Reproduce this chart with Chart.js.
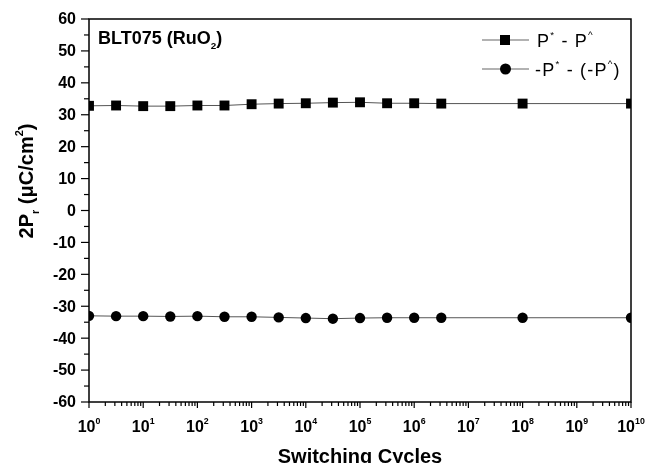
<!DOCTYPE html>
<html>
<head>
<meta charset="utf-8">
<script src="https://cdn.jsdelivr.net/npm/chart.js@4/dist/chart.umd.min.js"></script>
<style>
  html, body { margin: 0; padding: 0; background: #fff; }
  #wrap { width: 645px; height: 463px; }
</style>
</head>
<body>
<div id="wrap"><canvas id="c" width="645" height="463"></canvas></div>
<script>
// switching cycles (x) and remanent polarisation values (y)
const cycles = [1, 3.16e0, 1e1, 3.16e1, 1e2, 3.16e2, 1e3, 3.16e3, 1e4, 3.16e4, 1e5, 3.16e5, 1e6, 3.16e6, 1e8, 1e10];
const posValues = [32.8, 32.9, 32.7, 32.7, 32.9, 32.9, 33.3, 33.5, 33.6, 33.8, 33.9, 33.6, 33.6, 33.5, 33.5, 33.5];
const negValues = [-33.0, -33.1, -33.1, -33.2, -33.1, -33.3, -33.3, -33.5, -33.7, -33.9, -33.7, -33.6, -33.6, -33.6, -33.6, -33.6];
const yTicks = [60, 50, 40, 30, 20, 10, 0, -10, -20, -30, -40, -50, -60];
const xDecades = [0, 1, 2, 3, 4, 5, 6, 7, 8, 9, 10];

const FONT = "'Liberation Sans', Arial, sans-serif";

// draw a list of text runs, each normal / sup / sub
function drawRuns(ctx, x, y, runs, size, weight) {
  let cx = x;
  runs.forEach((r) => {
    let s = size, dy = 0;
    if (r.sup) { s = size * 0.55; dy = -size * 0.5; }
    if (r.sub) { s = size * 0.55; dy = size * 0.3; }
    ctx.font = weight + " " + s + "px " + FONT;
    ctx.fillText(r.t, cx, y + dy);
    cx += ctx.measureText(r.t).width;
  });
  return cx;
}

function runsWidth(ctx, runs, size, weight) {
  let w = 0;
  runs.forEach((r) => {
    const s = r.sup || r.sub ? size * 0.55 : size;
    ctx.font = weight + " " + s + "px " + FONT;
    w += ctx.measureText(r.t).width;
  });
  return w;
}

const axesPlugin = {
  id: "axesPlugin",
  afterDatasetsDraw(chart) {
    const { ctx, chartArea: a, scales } = chart;
    const xs = scales.x, ys = scales.y;
    ctx.save();
    ctx.strokeStyle = "#000";
    ctx.fillStyle = "#000";
    ctx.lineWidth = 1.5;
    ctx.strokeRect(a.left, a.top, a.right - a.left, a.bottom - a.top);

    // y ticks
    ctx.lineWidth = 1.2;
    for (let v = -60; v <= 60; v += 5) {
      const py = ys.getPixelForValue(v);
      const len = v % 10 === 0 ? 8 : 5;
      ctx.beginPath(); ctx.moveTo(a.left - len, py); ctx.lineTo(a.left, py); ctx.stroke();
    }
    ctx.font = "bold 16px " + FONT;
    ctx.textAlign = "right";
    ctx.textBaseline = "middle";
    yTicks.forEach((v) => {
      ctx.fillText(String(v), a.left - 13, ys.getPixelForValue(v) + 1);
    });

    // x ticks (log)
    xDecades.forEach((d) => {
      const px = xs.getPixelForValue(Math.pow(10, d));
      ctx.beginPath(); ctx.moveTo(px, a.bottom); ctx.lineTo(px, a.bottom + 6); ctx.stroke();
      if (d < 10) {
        for (let m = 2; m <= 9; m++) {
          const mx = xs.getPixelForValue(m * Math.pow(10, d));
          ctx.beginPath(); ctx.moveTo(mx, a.bottom); ctx.lineTo(mx, a.bottom + 4); ctx.stroke();
        }
      }
    });
    ctx.textAlign = "left";
    ctx.textBaseline = "alphabetic";
    xDecades.forEach((d) => {
      const px = xs.getPixelForValue(Math.pow(10, d));
      const runs = [{ t: "10" }, { t: String(d), sup: true }];
      const w = runsWidth(ctx, runs, 16, "bold");
      drawRuns(ctx, px - w / 2, a.bottom + 30, runs, 16, "bold");
    });

    // x title
    ctx.font = "bold 20px " + FONT;
    ctx.textAlign = "center";
    ctx.fillText("Switching Cycles", (a.left + a.right) / 2, 463);

    // y title, rotated
    ctx.save();
    ctx.translate(33, 181);
    ctx.rotate(-Math.PI / 2);
    ctx.textAlign = "left";
    const yRuns = [{ t: "2P" }, { t: "r", sub: true }, { t: " (\u03bcC/cm" }, { t: "2", sup: true }, { t: ")" }];
    const w = runsWidth(ctx, yRuns, 20, "bold");
    drawRuns(ctx, -w / 2, 0, yRuns, 20, "bold");
    ctx.restore();

    // sample label
    ctx.textAlign = "left";
    drawRuns(ctx, 98, 44, [{ t: "BLT075 (RuO" }, { t: "2", sub: true }, { t: ")" }], 18, "bold");

    // legend
    const legend = [
      { y: 40, x: 537, style: "rect", runs: [{ t: "P" }, { t: "*", sup: true }, { t: " - P" }, { t: "^", sup: true }] },
      { y: 69, x: 535, style: "circle", runs: [{ t: "-P" }, { t: "*", sup: true }, { t: " - (-P" }, { t: "^", sup: true }, { t: ")" }] },
    ];
    legend.forEach((l) => {
      ctx.strokeStyle = "#666";
      ctx.lineWidth = 1.2;
      ctx.beginPath(); ctx.moveTo(482, l.y); ctx.lineTo(529, l.y); ctx.stroke();
      ctx.fillStyle = "#000";
      if (l.style === "rect") ctx.fillRect(500, l.y - 5, 10, 10);
      else { ctx.beginPath(); ctx.arc(505.5, l.y, 5.5, 0, Math.PI * 2); ctx.fill(); }
      ctx.letterSpacing = "1.2px";
      drawRuns(ctx, l.x, l.y + 7, l.runs, 18, "normal");
      ctx.letterSpacing = "0px";
    });
    ctx.restore();
  },
};

new Chart(document.getElementById("c"), {
  type: "line",
  data: {
    labels: cycles,
    datasets: [
      {
        label: "P* - P^",
        data: cycles.map((c, i) => ({ x: c, y: posValues[i] })),
        borderColor: "#555",
        borderWidth: 1,
        pointStyle: "rect",
        pointRadius: 7,
        pointBackgroundColor: "#000",
        pointBorderWidth: 0,
        tension: 0,
        clip: 0,
      },
      {
        label: "-P* - (-P^)",
        data: cycles.map((c, i) => ({ x: c, y: negValues[i] })),
        borderColor: "#555",
        borderWidth: 1,
        pointStyle: "circle",
        pointRadius: 5.2,
        pointBackgroundColor: "#000",
        pointBorderWidth: 0,
        tension: 0,
        clip: 0,
      },
    ],
  },
  options: {
    responsive: false,
    animation: false,
    layout: { padding: { left: 89, right: 14, top: 19, bottom: 61 } },
    plugins: { legend: { display: false }, tooltip: { enabled: false } },
    scales: {
      x: { type: "logarithmic", min: 1, max: 1e10, display: false },
      y: { type: "linear", min: -60, max: 60, display: false },
    },
  },
  plugins: [axesPlugin],
});
</script>
</body>
</html>
